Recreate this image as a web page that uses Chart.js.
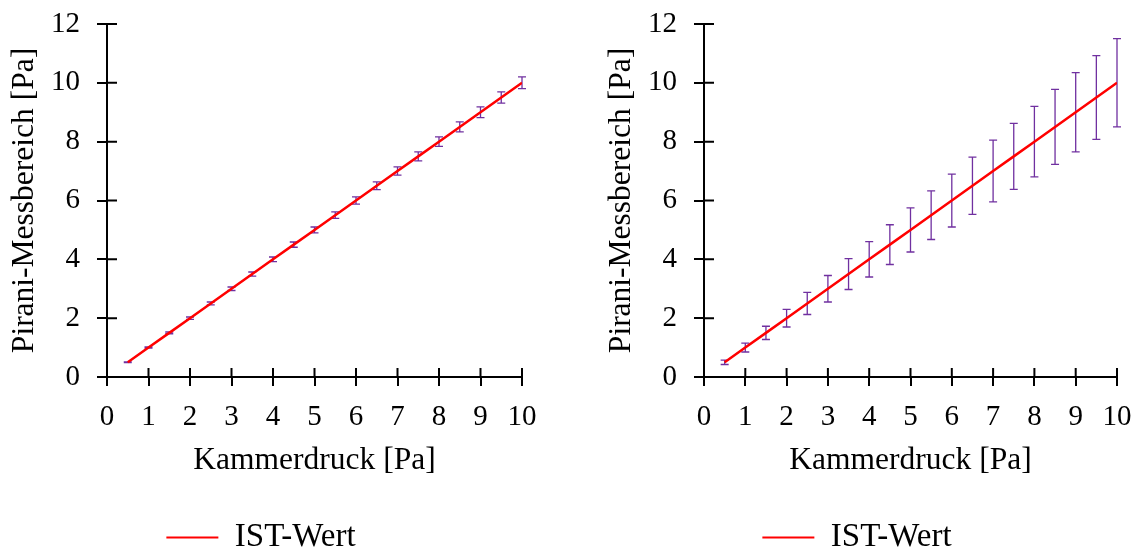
<!DOCTYPE html>
<html>
<head>
<meta charset="utf-8">
<script src="https://cdn.jsdelivr.net/npm/chart.js@4.4.1/dist/chart.umd.min.js"></script>
<style>
  html, body { margin: 0; padding: 0; background: #fff; }
  .wrap { position: absolute; top: 0; width: 539px; height: 549px; }
</style>
</head>
<body>
<div class="wrap" style="left:0"><canvas id="chartLinks"></canvas></div>
<div class="wrap" style="left:597px"><canvas id="chartRechts"></canvas></div>
<script>
// Daten
const kammerdruck = [0.5, 1, 1.5, 2, 2.5, 3, 3.5, 4, 4.5, 5, 5.5, 6, 6.5, 7, 7.5, 8, 8.5, 9, 9.5, 10];
const istWert = [0.5, 1, 1.5, 2, 2.5, 3, 3.5, 4, 4.5, 5, 5.5, 6, 6.5, 7, 7.5, 8, 8.5, 9, 9.5, 10];
// Fehlerbalken (+/-), links klein, rechts groß
const fehlerLinks = [0.01, 0.02, 0.03, 0.04, 0.05, 0.06, 0.07, 0.08, 0.09, 0.1,
                     0.11, 0.12, 0.13, 0.14, 0.15, 0.16, 0.17, 0.18, 0.19, 0.2];
const fehlerRechts = [0.075, 0.15, 0.225, 0.3, 0.375, 0.45, 0.525, 0.6, 0.675, 0.75,
                      0.825, 0.9, 0.975, 1.05, 1.125, 1.2, 1.275, 1.35, 1.425, 1.5];
const xAchse = { min: 0, max: 10, step: 1 };
const yAchse = { min: 0, max: 12, step: 2 };

Chart.defaults.font.family = "'Liberation Serif', 'Times New Roman', serif";
Chart.defaults.font.size = 29;
Chart.defaults.color = "#000000";

const titelFont = { size: 31.5 };
const legendeFont = { size: 33 };
const untenRand = -15; // Legende etwas tiefer setzen

// Fehlerbalken unter die Linie zeichnen
const errorBars = {
  id: "errorBars",
  beforeDatasetsDraw(chart, args, opts) {
    const { ctx, scales } = chart;
    const werte = opts.werte || [];
    ctx.save();
    ctx.strokeStyle = "#7030A0";
    ctx.lineWidth = 1.3;
    kammerdruck.forEach((x, i) => {
      const px = scales.x.getPixelForValue(x);
      const oben = scales.y.getPixelForValue(istWert[i] + werte[i]);
      const unten = scales.y.getPixelForValue(istWert[i] - werte[i]);
      ctx.beginPath();
      ctx.moveTo(px, oben); ctx.lineTo(px, unten);
      ctx.moveTo(px - 4, oben); ctx.lineTo(px + 4, oben);
      ctx.moveTo(px - 4, unten); ctx.lineTo(px + 4, unten);
      ctx.stroke();
    });
    ctx.restore();
  }
};

// Teilstriche auch nach innen (Kreuz-Teilstriche wie in Excel)
const innerTicks = {
  id: "innerTicks",
  afterDraw(chart) {
    const { ctx, chartArea, scales } = chart;
    ctx.save();
    ctx.strokeStyle = "#000";
    ctx.lineWidth = 2;
    ctx.beginPath();
    scales.x.ticks.forEach(t => {
      const px = scales.x.getPixelForValue(t.value);
      ctx.moveTo(px, chartArea.bottom); ctx.lineTo(px, chartArea.bottom - 9);
    });
    scales.y.ticks.forEach(t => {
      const py = scales.y.getPixelForValue(t.value);
      ctx.moveTo(chartArea.left, py); ctx.lineTo(chartArea.left + 10, py);
    });
    ctx.stroke();
    ctx.restore();
  }
};

function createPiraniChart(canvasId, fehler, rechterRand) {
  const ctx = document.getElementById(canvasId).getContext("2d");
  return new Chart(ctx, {
    type: "line",
    data: {
      datasets: [{
        label: "IST-Wert",
        data: kammerdruck.map((x, i) => ({ x: x, y: istWert[i] })),
        borderColor: "#FF0000",
        backgroundColor: "#FF0000",
        borderWidth: 2.5,
        pointRadius: 0,
        tension: 0
      }]
    },
    options: {
      responsive: true,
      maintainAspectRatio: false,
      animation: false,
      layout: { padding: { top: 24, right: rechterRand, bottom: untenRand, left: 0 } },
      plugins: {
        tooltip: { enabled: false },
        errorBars: { werte: fehler },
        legend: {
          position: "bottom",
          labels: {
            font: legendeFont,
            boxWidth: 52,
            boxHeight: 2,
            padding: 0,
            generateLabels(chart) {
              const items = Chart.defaults.plugins.legend.labels.generateLabels(chart);
              items.forEach(it => { it.lineWidth = 0; it.fillStyle = "#FF0000"; });
              return items;
            }
          }
        }
      },
      scales: {
        x: {
          type: "linear",
          min: xAchse.min,
          max: xAchse.max,
          ticks: { stepSize: xAchse.step, padding: 14, maxRotation: 0 },
          grid: { drawOnChartArea: false, tickLength: 9, color: "#000", lineWidth: 2 },
          border: { display: true, color: "#000", width: 2 },
          title: { display: true, text: "Kammerdruck [Pa]", font: titelFont, padding: { top: 0, bottom: 41 } },
          afterFit(s) {
            const leg = s.chart.legend;
            if (leg && leg.height) s.height = s.chart.height - untenRand - leg.height - 377;
            s.paddingLeft = 0;
            s.paddingRight = 0;
          }
        },
        y: {
          min: yAchse.min,
          max: yAchse.max,
          ticks: { stepSize: yAchse.step, padding: 17 },
          grid: { drawOnChartArea: false, tickLength: 10, color: "#000", lineWidth: 2 },
          border: { display: true, color: "#000", width: 2 },
          title: { display: true, text: "Pirani-Messbereich [Pa]", font: titelFont, padding: { top: 6, bottom: 0 } },
          afterFit(s) {
            s.width = 107;
            s.paddingTop = 0;
            s.paddingBottom = 0;
          }
        }
      }
    },
    plugins: [errorBars, innerTicks]
  });
}

createPiraniChart("chartLinks", fehlerLinks, 17);
createPiraniChart("chartRechts", fehlerRechts, 19);
</script>
</body>
</html>
